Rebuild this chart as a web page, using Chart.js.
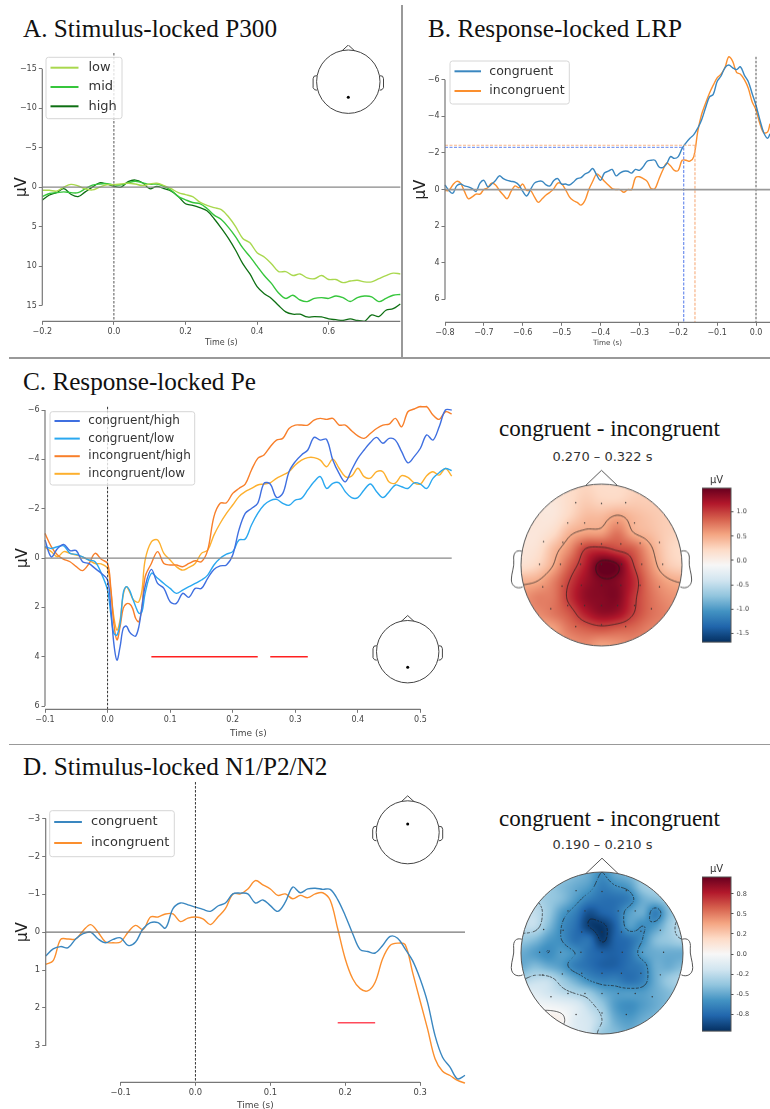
<!DOCTYPE html>
<html>
<head>
<meta charset="utf-8">
<title>ERP components</title>
<script src="https://cdn.jsdelivr.net/npm/chart.js@4/dist/chart.umd.min.js"></script>
<style>
    html, body { margin: 0; padding: 0; background: #fff; }
    #page { position: relative; width: 770px; height: 1109px; overflow: hidden; background: #fff; filter: blur(0.5px); }
    #page canvas { position: absolute; }
    .titulo { position: absolute; font: 25.2px/24px "Liberation Serif", serif; color: #111; white-space: nowrap; }
    .titulo.mapa { font-size: 23px; }
    .rango { position: absolute; font: 13px/16px "DejaVu Sans", sans-serif; color: #333; white-space: nowrap; transform: translateX(-50%); }
    .sep { position: absolute; background: #999; }
</style>
</head>
<body>
<div id="page">
    <div class="sep" style="left:9px;top:357px;width:761px;height:1.5px"></div>
    <div class="sep" style="left:401px;top:5px;width:1.5px;height:352px"></div>
    <div class="sep" style="left:9px;top:743.5px;width:761px;height:1.5px"></div>
    <div class="titulo" style="left:23px;top:17px">A. Stimulus-locked P300</div>
    <div class="titulo" style="left:428px;top:17px">B. Response-locked LRP</div>
    <div class="titulo" style="left:23px;top:370px">C. Response-locked Pe</div>
    <div class="titulo" style="left:23px;top:755px">D. Stimulus-locked N1/P2/N2</div>
    <div class="titulo mapa" style="left:499px;top:417px">congruent - incongruent</div>
    <div class="titulo mapa" style="left:499px;top:807px">congruent - incongruent</div>
    <div class="rango" style="left:602.5px;top:449px">0.270 – 0.322 s</div>
    <div class="rango" style="left:602.5px;top:837px">0.190 – 0.210 s</div>
</div>
<script>
// A. STIMULUS-LOCKED P300 (time in s, amplitude in µV, every 20 ms)
const tiemposA = [-0.2, -0.18, -0.16, -0.14, -0.12, -0.1, -0.08, -0.06, -0.04, -0.02, 0, 0.02, 0.04, 0.06, 0.08, 0.1, 0.12, 0.14, 0.16, 0.18, 0.2, 0.22, 0.24, 0.26, 0.28, 0.3, 0.32, 0.34, 0.36, 0.38, 0.4, 0.42, 0.44, 0.46, 0.48, 0.5, 0.52, 0.54, 0.56, 0.58, 0.6, 0.62, 0.64, 0.66, 0.68, 0.7, 0.72, 0.74, 0.76, 0.78, 0.8];
const lowA = [0.4, 0.4, 0.5, 0, -0.35, -0.15, 0.2, 0.35, 0, -0.3, -0.3, -0.4, -0.5, -0.4, -0.2, -0.4, -0.5, -0.2, 0.2, 0.7, 0.95, 1.2, 1.9, 2.3, 2.6, 2.85, 3.76, 5, 6.5, 7.06, 8.3, 8.85, 9.7, 10.7, 10.7, 11.2, 11, 11.5, 11.6, 11.2, 11.7, 11.7, 12.1, 11.9, 11.8, 12, 12, 11.6, 11.2, 10.9, 11];
const midA = [1.2, 0.8, 0.7, 0.6, 0.7, 0.7, 0.2, -0.25, -0.4, -0.45, -0.3, -0.3, -0.55, -0.75, -0.55, -0.35, -0.4, -0.1, 0.4, 1.2, 1.6, 1.95, 2.1, 2.7, 3.55, 4.1, 5.1, 6.3, 7.7, 8.8, 10, 11.2, 12.2, 13.4, 14.1, 13.7, 14.3, 14.5, 14.1, 14, 14.1, 13.8, 14, 14.5, 14, 13.8, 13.9, 14.5, 14.1, 13.7, 13.6];
const highA = [1.65, 1, 0.7, 0.2, 0.9, 1.2, 0.6, 0, -0.55, -0.4, -0.1, 0, -0.7, -0.9, -0.55, 0.2, -0.1, 0.2, 0.5, 1.2, 2.1, 2.3, 2.6, 3, 4, 5.2, 6.5, 8, 9.7, 11, 12.6, 13.5, 14.1, 15, 15.8, 16.1, 16.1, 16.45, 16.4, 16.45, 16.7, 16.8, 16.9, 16.7, 16.9, 17, 16.2, 16.4, 15.6, 15.4, 14.8];

// B. RESPONSE-LOCKED LRP (every 10 ms)
const tiemposB = [-0.8, -0.79, -0.78, -0.77, -0.76, -0.75, -0.74, -0.73, -0.72, -0.71, -0.7, -0.69, -0.68, -0.67, -0.66, -0.65, -0.64, -0.63, -0.62, -0.61, -0.6, -0.59, -0.58, -0.57, -0.56, -0.55, -0.54, -0.53, -0.52, -0.51, -0.5, -0.49, -0.48, -0.47, -0.46, -0.45, -0.44, -0.43, -0.42, -0.41, -0.4, -0.39, -0.38, -0.37, -0.36, -0.35, -0.34, -0.33, -0.32, -0.31, -0.3, -0.29, -0.28, -0.27, -0.26, -0.25, -0.24, -0.23, -0.22, -0.21, -0.2, -0.19, -0.18, -0.17, -0.16, -0.15, -0.14, -0.13, -0.12, -0.11, -0.1, -0.09, -0.08, -0.07, -0.06, -0.05, -0.04, -0.03, -0.02, -0.01, 0, 0.01, 0.02, 0.03, 0.036];
const congruentB = [-0.25, 0.05, 0.2, -0.2, -0.3, -0.2, -0.15, -0.05, 0.1, -0.35, -0.5, -0.15, -0.3, -0.5, -0.75, -0.6, -0.5, -0.45, -0.4, -0.25, 0.1, 0.35, 0, -0.35, -0.45, -0.45, -0.25, -0.2, -0.5, -0.6, -0.3, -0.3, -0.25, -0.4, -0.6, -0.65, -0.85, -0.95, -1.15, -0.8, -0.5, -0.9, -1, -1.1, -0.75, -0.9, -1, -1, -0.9, -1.1, -1.05, -1.25, -1.55, -1.6, -1.6, -1.25, -1.2, -1.4, -1.8, -1.7, -1.8, -2.25, -2.55, -2.8, -3, -3.35, -3.8, -4.45, -5.05, -5.2, -5.9, -6.2, -6.65, -6.8, -6.65, -6.55, -6.7, -6.25, -5.9, -5.25, -4.6, -3.8, -3.1, -2.8, -3.05];
const incongruentB = [0.05, 0.05, -0.25, -0.45, -0.35, 0.1, 0.5, 0.4, 0.25, 0.25, 0, -0.1, -0.35, -0.25, 0.05, 0.3, 0.5, 0.1, -0.2, -0.1, -0.3, 0.05, 0.05, 0.4, 0.7, 0.5, 0.3, 0.15, -0.05, -0.35, -0.3, 0, 0.4, 0.6, 0.7, 0.85, 0.6, 0, -0.45, -0.85, -0.7, -0.45, -0.25, -0.05, 0, 0, 0.15, 0, 0, -0.65, -0.7, -0.6, -0.45, -0.05, -0.05, -0.55, -1.05, -1.45, -1.3, -1.05, -1.05, -1.6, -1.6, -1.55, -1.8, -3.15, -4.1, -4.7, -5.25, -5.7, -6.1, -6.3, -6.65, -7.25, -7, -6.4, -6.3, -6, -5.55, -4.8, -4.35, -3.6, -3.1, -3.15, -3.6];
const latenciaB = { congruent: [-0.186, -2.3], incongruent: [-0.157, -2.42] };

// C. RESPONSE-LOCKED PE
const tiemposC = [-0.1, -0.09, -0.08, -0.07, -0.06, -0.05, -0.04, -0.03, -0.02, -0.01, 0, 0.005, 0.01, 0.015, 0.02, 0.025, 0.03, 0.035, 0.04, 0.045, 0.05, 0.055, 0.06, 0.07, 0.08, 0.09, 0.1, 0.11, 0.12, 0.13, 0.14, 0.15, 0.16, 0.17, 0.18, 0.19, 0.2, 0.21, 0.22, 0.23, 0.24, 0.25, 0.26, 0.27, 0.28, 0.29, 0.3, 0.31, 0.32, 0.33, 0.34, 0.35, 0.36, 0.37, 0.38, 0.39, 0.4, 0.41, 0.42, 0.43, 0.44, 0.45, 0.46, 0.47, 0.48, 0.49, 0.5, 0.51, 0.52, 0.53, 0.54, 0.55];
const congHighC = [-0.73, -0.05, -0.39, -0.55, -0.3, -0.3, 0.15, 0.22, 0.42, 0.62, 0.89, 1.97, 3.46, 4.14, 3.59, 2.85, 2.76, 2.99, 3.12, 3.16, 2.78, 1.97, 1.16, 0.46, 1.03, 1.23, 1.77, 1.84, 1.43, 1.59, 1.23, 1.23, 0.82, 0.46, 0.32, 0.28, -0.12, -1.14, -1.81, -2.01, -2.22, -3.03, -3, -2.46, -2.62, -3.5, -3.91, -4.18, -4.38, -4.89, -4.78, -4.81, -3.97, -3.43, -3.09, -3.57, -4.04, -4.38, -4.68, -4.89, -4.65, -4.85, -4.78, -4.31, -3.86, -4.11, -4.45, -4.99, -4.78, -5.32, -6, -6];
const congLowC = [-0.46, -0.39, -0.46, -0.49, -0.19, -0.15, -0.05, 0.08, 0.15, 0.62, 1.3, 2.24, 3.05, 3.12, 2.65, 1.43, 1.16, 1.3, 1.64, 1.97, 2.24, 2.18, 1.43, 0.62, 0.82, 1.03, 1.23, 1.43, 1.3, 1.16, 1.03, 0.89, 0.69, 0.28, 0.01, -0.16, -0.26, -0.73, -0.77, -1.34, -1.81, -2.15, -2.33, -2.38, -2.22, -2.14, -2.35, -2.42, -2.76, -3.09, -3.3, -2.82, -3.03, -3.05, -2.69, -2.45, -2.45, -2.76, -3, -2.69, -2.45, -2.69, -2.96, -2.89, -2.82, -3.05, -3, -2.82, -3.23, -3.46, -3.63, -3.54];
const incHighC = [-1, -0.46, -0.12, 0.05, 0.15, 0.35, 0.51, 0.24, -0.19, 0.05, 0.22, 1.16, 2.65, 3.32, 2.78, 2.04, 1.86, 1.86, 2.04, 2.45, 2.58, 1.97, 0.76, 0.22, -0.26, 0.22, 0.28, 0.28, 0.35, 0.22, 0.11, 0.15, -0.32, -1.68, -2.22, -2.24, -2.62, -2.82, -3, -3.57, -4.04, -4.18, -4.51, -4.78, -4.85, -5.25, -5.39, -5.39, -5.39, -5.59, -5.66, -5.62, -5.66, -5.39, -5.39, -5.16, -4.95, -4.85, -5.05, -5.25, -5.39, -5.43, -5.66, -5.32, -5.93, -6.04, -6.14, -6.14, -5.8, -5.62, -5.93, -5.84];
const incLowC = [-0.43, -0.26, -0.05, -0.26, -0.19, -0.12, -0.05, 0.08, 0.22, 0.24, 0.42, 1.3, 2.38, 2.92, 2.51, 1.5, 1.16, 1.36, 1.64, 1.77, 1.77, 1.3, 0.08, -0.66, -0.73, -0.19, 0.08, 0.35, 0.49, 0.38, 0.22, -0.19, -0.32, -0.93, -1.41, -1.81, -2.15, -2.49, -2.69, -2.82, -2.96, -3, -3.05, -3.23, -3.36, -3.5, -3.77, -3.97, -4.07, -4.07, -3.97, -3.7, -4.01, -3.64, -3.3, -3.32, -3.64, -3.3, -3.24, -3.5, -3.5, -3.08, -3.04, -3.34, -3.27, -3.05, -3, -3.34, -3.5, -3.36, -3.63, -3.32];
const significativoC = [[0.07, 0.24], [0.26, 0.32]];

// D. STIMULUS-LOCKED N1/P2/N2 (every 10 ms)
const tiemposD = [-0.2, -0.19, -0.18, -0.17, -0.16, -0.15, -0.14, -0.13, -0.12, -0.11, -0.1, -0.09, -0.08, -0.07, -0.06, -0.05, -0.04, -0.03, -0.02, -0.01, 0, 0.01, 0.02, 0.03, 0.04, 0.05, 0.06, 0.07, 0.08, 0.09, 0.1, 0.11, 0.12, 0.13, 0.14, 0.15, 0.16, 0.17, 0.18, 0.19, 0.2, 0.21, 0.22, 0.23, 0.24, 0.25, 0.26, 0.27, 0.28, 0.29, 0.3, 0.31, 0.32, 0.33, 0.34, 0.35, 0.36];
const congruentD = [0.63, 0.44, 0.38, 0.41, 0.18, 0.04, 0, 0.18, 0.28, 0.19, 0.15, 0.35, 0.26, -0.09, -0.25, -0.25, -0.11, -0.62, -0.77, -0.72, -0.66, -0.6, -0.55, -0.69, -0.77, -1.01, -1.03, -1.01, -0.77, -0.85, -0.7, -0.55, -0.79, -1.19, -1.04, -1.14, -1.16, -1.13, -1.13, -0.86, -0.44, 0.04, 0.46, 0.51, 0.55, 0.35, 0.11, 0.16, 0.44, 0.75, 1.23, 1.85, 2.73, 3.3, 3.56, 3.87, 3.78];
const incongruentD = [0.85, 0.75, 0.19, 0.18, 0.18, -0.04, -0.2, 0, 0.26, 0.28, 0.26, 0, -0.18, -0.07, -0.4, -0.4, -0.48, -0.48, -0.28, -0.37, -0.4, -0.35, -0.2, -0.4, -0.62, -1.01, -1.01, -1.14, -1.36, -1.25, -1.14, -0.97, -1.01, -0.88, -0.97, -0.91, -1.01, -1.04, -0.84, -0.09, 0.7, 1.23, 1.49, 1.55, 1.32, 0.7, 0.35, 0.29, 0.33, 1.06, 1.81, 2.55, 3.34, 3.67, 3.78, 3.91, 3.98];
const significativoD = [[0.19, 0.24]];

// TOPOGRAPHIES (µV on a regular grid over the head, first row at the front)
const topoC = [
    [0.2, 0.2, 0.2, 0.2, 0.25, 0.2, 0.2, 0.25, 0.3, 0.3, 0.3],
    [0.2, 0.1, 0.1, 0.2, 0.3, 0.25, 0.25, 0.3, 0.3, 0.3, 0.3],
    [0.2, 0.1, 0.1, 0.25, 0.4, 0.42, 0.52, 0.42, 0.35, 0.3, 0.3],
    [0.1, 0.1, 0.2, 0.45, 0.55, 0.57, 0.75, 0.5, 0.4, 0.3, 0.25],
    [0.1, 0.15, 0.4, 0.65, 1, 1.05, 0.95, 0.85, 0.55, 0.3, 0.2],
    [0.15, 0.25, 0.5, 0.85, 1.15, 1.5, 1.43, 1, 0.65, 0.35, 0.25],
    [0.45, 0.5, 0.7, 1, 1.25, 1.39, 1.36, 1.1, 0.75, 0.55, 0.48],
    [0.6, 0.7, 0.75, 1.05, 1.3, 1.36, 1.37, 1.05, 0.8, 0.65, 0.6],
    [0.6, 0.65, 0.75, 0.9, 1.15, 1.3, 1.25, 1, 0.8, 0.7, 0.6],
    [0.55, 0.5, 0.55, 0.75, 0.85, 0.9, 0.85, 0.8, 0.7, 0.65, 0.6],
    [0.5, 0.5, 0.55, 0.6, 0.65, 0.55, 0.6, 0.65, 0.6, 0.6, 0.6]
];
const topoD = [
    [-0.36, -0.36, -0.36, -0.36, -0.42, -0.48, -0.6, -0.48, -0.42, -0.36, -0.3, -0.3, -0.3],
    [-0.36, -0.36, -0.36, -0.42, -0.48, -0.54, -0.66, -0.6, -0.54, -0.36, -0.3, -0.3, -0.3],
    [-0.3, -0.3, -0.36, -0.42, -0.54, -0.66, -0.72, -0.72, -0.66, -0.48, -0.42, -0.36, -0.36],
    [-0.24, -0.24, -0.36, -0.54, -0.66, -0.84, -0.78, -0.72, -0.54, -0.48, -0.66, -0.42, -0.3],
    [-0.24, -0.24, -0.42, -0.6, -0.72, -0.9, -0.93, -0.78, -0.54, -0.6, -0.54, -0.36, -0.24],
    [-0.36, -0.42, -0.54, -0.6, -0.72, -0.72, -0.92, -0.78, -0.72, -0.6, -0.42, -0.36, -0.3],
    [-0.48, -0.54, -0.6, -0.54, -0.6, -0.72, -0.78, -0.78, -0.72, -0.54, -0.48, -0.48, -0.48],
    [-0.48, -0.42, -0.48, -0.54, -0.66, -0.72, -0.78, -0.78, -0.72, -0.66, -0.48, -0.48, -0.42],
    [-0.3, -0.24, -0.24, -0.36, -0.48, -0.6, -0.66, -0.66, -0.72, -0.66, -0.48, -0.36, -0.3],
    [-0.12, -0.12, -0.18, -0.24, -0.3, -0.36, -0.48, -0.54, -0.54, -0.54, -0.48, -0.42, -0.36],
    [-0.06, -0.03, -0.03, -0.06, -0.12, -0.24, -0.36, -0.54, -0.6, -0.54, -0.48, -0.42, -0.36],
    [-0.02, 0.02, 0.06, 0.03, -0.12, -0.18, -0.3, -0.48, -0.54, -0.48, -0.42, -0.36, -0.36],
    [-0.02, 0, 0, -0.06, -0.12, -0.18, -0.36, -0.42, -0.48, -0.42, -0.36, -0.36, -0.36]
];
const sensoresX = [-0.32, 0, 0.3, -0.42, -0.21, 0.2, 0.41, -0.72, -0.48, -0.25, 0, 0.24, 0.48, 0.72, -0.77, -0.51, -0.26, 0, 0.25, 0.5, 0.76, -0.73, -0.49, -0.25, 0, 0.24, 0.48, 0.72, -0.63, -0.42, -0.21, 0, 0.2, 0.41, 0.62, -0.32, 0, 0.3];
const sensoresY = [0.77, 0.76, 0.77, 0.52, 0.52, 0.52, 0.52, 0.29, 0.28, 0.26, 0.26, 0.26, 0.27, 0.28, 0.01, 0.01, 0.01, 0.01, 0.01, 0.01, 0.01, -0.27, -0.26, -0.25, -0.25, -0.25, -0.25, -0.27, -0.54, -0.5, -0.5, -0.5, -0.5, -0.5, -0.54, -0.76, -0.74, -0.76];
const nivelesC = [0.5, 1, 1.42];
const nivelesD = [-0.9, -0.6, -0.3, 0];
const barraTicksC = [1, 0.5, 0, -0.5, -1, -1.5];
const barraLabelsC = ['1.0', '0.5', '0.0', '-0.5', '-1.0', '-1.5'];
const barraTicksD = [0.75, 0.5, 0.25, 0, -0.25, -0.5, -0.75];
const barraLabelsD = ['0.8', '0.5', '0.2', '0.0', '-0.2', '-0.5', '-0.8'];

const page = document.getElementById('page');
const RDBU = ['#053061', '#2166ac', '#4393c3', '#92c5de', '#d1e5f0', '#f7f7f7', '#fddbc7', '#f4a582', '#d6604d', '#b2182b', '#67001f'];
const RDBU_RGB = RDBU.map(c => [1, 3, 5].map(i => parseInt(c.substr(i, 2), 16)));

function nuevoCanvas(caja) {
    const canvas = document.createElement('canvas');
    canvas.width = caja.w;
    canvas.height = caja.h;
    canvas.style.left = caja.l + 'px';
    canvas.style.top = caja.t + 'px';
    canvas.style.width = caja.w + 'px';
    canvas.style.height = caja.h + 'px';
    page.appendChild(canvas);
    return canvas.getContext('2d');
}

function puntos(xs, ys) {
    return xs.map((x, i) => ({ x: x, y: ys[i] }));
}

function curva(label, xs, ys, color, width) {
    return { label: label, data: puntos(xs, ys), borderColor: color, borderWidth: width || 1.4, pointRadius: 0, tension: 0.35, clip: false, fill: false };
}

function segmento(p1, p2, color, width, dash) {
    return { data: [{ x: p1[0], y: p1[1] }, { x: p2[0], y: p2[1] }], borderColor: color, borderWidth: width, borderDash: dash || [], pointRadius: 0, clip: false, fill: false };
}

function dibujarCabeza(ctx, cx, cy, r, dotDy) {
    ctx.save();
    ctx.strokeStyle = '#444';
    ctx.lineWidth = 1;
    ctx.beginPath();
    ctx.arc(cx, cy, r, 0, Math.PI * 2);
    ctx.moveTo(cx - 6.5, cy - r + 1);
    ctx.lineTo(cx, cy - r - 5);
    ctx.lineTo(cx + 6.5, cy - r + 1);
    ctx.stroke();
    [-1, 1].forEach(lado => {
        ctx.beginPath();
        ctx.moveTo(cx + lado * r * 0.99, cy - 6);
        ctx.lineTo(cx + lado * (r + 2.5), cy - 5.5);
        ctx.lineTo(cx + lado * (r + 3.5), cy - 3);
        ctx.lineTo(cx + lado * (r + 3.5), cy + 6);
        ctx.lineTo(cx + lado * (r + 2), cy + 8);
        ctx.lineTo(cx + lado * r * 0.99, cy + 8.5);
        ctx.stroke();
    });
    ctx.fillStyle = '#000';
    ctx.beginPath();
    ctx.arc(cx, cy + dotDy, 1.5, 0, Math.PI * 2);
    ctx.fill();
    ctx.restore();
}

// Time course panel: box is the canvas, area the plot rectangle, both in page pixels
function graficoTraza(cfg) {
    const { caja, area } = cfg;
    const ctx = nuevoCanvas(caja);
    const decoracion = {
        id: 'decoracion',
        afterDatasetsDraw(chart) {
            const c = chart.ctx;
            const sx = chart.scales.x, sy = chart.scales.y;
            c.save();
            c.strokeStyle = '#777';
            c.lineWidth = 1.2;
            c.beginPath();
            c.moveTo(sx.left, sy.getPixelForValue(cfg.yBounds[0]));
            c.lineTo(sx.left, sy.getPixelForValue(cfg.yBounds[1]));
            c.moveTo(sx.getPixelForValue(cfg.xBounds[0]), sy.bottom);
            c.lineTo(sx.getPixelForValue(cfg.xBounds[1]), sy.bottom);
            c.stroke();
            // Legend, matplotlib style
            const lg = cfg.leyenda;
            const lx = lg.x - caja.l, ly = lg.y - caja.t;
            c.fillStyle = 'rgba(255,255,255,0.8)';
            c.strokeStyle = '#d6d6d6';
            c.lineWidth = 1;
            c.beginPath();
            c.roundRect(lx, ly, lg.w, lg.h, 2.5);
            c.fill();
            c.stroke();
            c.font = lg.font + 'px "DejaVu Sans"';
            c.textBaseline = 'middle';
            lg.items.forEach((item, i) => {
                const y = ly + lg.y0 + i * lg.dy;
                c.strokeStyle = item[1];
                c.lineWidth = 2;
                c.beginPath();
                c.moveTo(lx + 4.5, y);
                c.lineTo(lx + 4.5 + lg.linea, y);
                c.stroke();
                c.fillStyle = '#333';
                c.fillText(item[0], lx + lg.tx, y);
            });
            c.restore();
            if (cfg.cabeza) {
                dibujarCabeza(c, cfg.cabeza.x - caja.l, cfg.cabeza.y - caja.t, cfg.cabeza.r, cfg.cabeza.dot);
            }
        }
    };
    return new Chart(ctx, {
        type: 'line',
        data: { datasets: cfg.datasets },
        options: {
            responsive: false,
            animation: false,
            layout: { padding: { top: area.top - caja.t, right: caja.l + caja.w - area.right } },
            plugins: { legend: { display: false }, tooltip: { enabled: false } },
            scales: {
                x: {
                    type: 'linear',
                    min: cfg.xRange[0],
                    max: cfg.xRange[1],
                    afterFit: s => { s.height = caja.t + caja.h - area.bottom; },
                    afterBuildTicks: s => { s.ticks = cfg.xTicks.map(v => ({ value: v })); },
                    border: { display: false },
                    grid: { drawOnChartArea: false, drawTicks: true, tickLength: 3.5, color: '#777' },
                    ticks: { autoSkip: false, maxRotation: 0, padding: 2, font: { family: 'DejaVu Sans', size: cfg.tickFont }, color: '#444', callback: v => v.toFixed(1).replace('-', '\u2212') },
                    title: { display: true, text: 'Time (s)', font: { family: 'DejaVu Sans', size: cfg.timeFont }, color: '#444', padding: { top: 0, bottom: cfg.timePad } }
                },
                y: {
                    type: 'linear',
                    reverse: true,
                    min: cfg.yRange[0],
                    max: cfg.yRange[1],
                    afterFit: s => { s.width = area.left - caja.l; },
                    afterBuildTicks: s => { s.ticks = cfg.yTicks.map(v => ({ value: v })); },
                    border: { display: false },
                    grid: { drawOnChartArea: false, drawTicks: true, tickLength: 3.5, color: '#777' },
                    ticks: { autoSkip: false, padding: 2, font: { family: 'DejaVu Sans', size: cfg.tickFont }, color: '#444', callback: v => String(v).replace('-', '\u2212') },
                    title: { display: true, text: 'µV', font: { family: 'DejaVu Sans', size: 15 }, color: '#222', padding: { top: cfg.uvPad, bottom: 0 } }
                }
            }
        },
        plugins: [decoracion]
    });
}

function colorMapa(t) {
    const p = Math.max(0, Math.min(1, t)) * 10;
    const i = Math.min(9, Math.floor(p));
    const f = p - i;
    return RDBU_RGB[i].map((v, k) => v + (RDBU_RGB[i + 1][k] - v) * f);
}

// Smooth reading of the value grid, u and v go from 0 to 1
function leerGrid(grid, u, v) {
    const n = grid.length - 1;
    const px = u * n, py = v * n;
    const ix = Math.min(n - 1, Math.floor(px)), iy = Math.min(n - 1, Math.floor(py));
    const fx = px - ix, fy = py - iy;
    const cr = (a, b, c, d, t) => b + 0.5 * t * (c - a + t * (2 * a - 5 * b + 4 * c - d + t * (3 * (b - c) + d - a)));
    const at = (r, c) => grid[Math.max(0, Math.min(n, r))][Math.max(0, Math.min(n, c))];
    const fila = r => cr(at(r, ix - 1), at(r, ix), at(r, ix + 1), at(r, ix + 2), fx);
    return cr(fila(iy - 1), fila(iy), fila(iy + 1), fila(iy + 2), fy);
}

function dibujarContornos(c, grid, niveles, sx, sy) {
    const M = 110;
    const valores = [];
    for (let j = 0; j <= M; j++) {
        valores.push([]);
        for (let i = 0; i <= M; i++) valores[j].push(leerGrid(grid, i / M, j / M));
    }
    const px = u => sx.getPixelForValue(-1 + 2 * u);
    const py = v => sy.getPixelForValue(1 - 2 * v);
    niveles.forEach(nivel => {
        c.save();
        c.strokeStyle = 'rgba(30,30,30,0.75)';
        c.lineWidth = 0.9;
        c.beginPath();
        for (let j = 0; j < M; j++) {
            for (let i = 0; i < M; i++) {
                // negative levels are dashed: leave out every third cell
                if (nivel < 0 && (i + j) % 3 === 2) continue;
                const q = [valores[j][i], valores[j][i + 1], valores[j + 1][i + 1], valores[j + 1][i]];
                const corte = [];
                const esq = [[i, j], [i + 1, j], [i + 1, j + 1], [i, j + 1]];
                for (let k = 0; k < 4; k++) {
                    const a = q[k], b = q[(k + 1) % 4];
                    if ((a < nivel) !== (b < nivel)) {
                        const t = (nivel - a) / (b - a);
                        const e1 = esq[k], e2 = esq[(k + 1) % 4];
                        corte.push([px((e1[0] + (e2[0] - e1[0]) * t) / M), py((e1[1] + (e2[1] - e1[1]) * t) / M)]);
                    }
                }
                for (let k = 0; k + 1 < corte.length; k += 2) {
                    c.moveTo(corte[k][0], corte[k][1]);
                    c.lineTo(corte[k + 1][0], corte[k + 1][1]);
                }
            }
        }
        c.stroke();
        c.restore();
    });
}

// Scalp map: value grid painted through the chart scales, sensors as a scatter dataset
function graficoMapa(cfg) {
    const margen = 20;
    const caja = { l: cfg.cx - cfg.r - margen, t: cfg.cy - cfg.r - margen, w: 2 * (cfg.r + margen), h: 2 * (cfg.r + margen) };
    const ctx = nuevoCanvas(caja);
    const mapa = {
        id: 'mapa',
        beforeDatasetsDraw(chart) {
            const c = chart.ctx;
            const sx = chart.scales.x, sy = chart.scales.y;
            const lado = Math.round(sx.right - sx.left);
            const img = c.createImageData(lado, lado);
            for (let j = 0; j < lado; j++) {
                for (let i = 0; i < lado; i++) {
                    const col = colorMapa((leerGrid(cfg.grid, i / (lado - 1), j / (lado - 1)) - cfg.vmin) / (cfg.vmax - cfg.vmin));
                    const o = (j * lado + i) * 4;
                    img.data[o] = col[0]; img.data[o + 1] = col[1]; img.data[o + 2] = col[2]; img.data[o + 3] = 255;
                }
            }
            const off = document.createElement('canvas');
            off.width = off.height = lado;
            off.getContext('2d').putImageData(img, 0, 0);
            const cx = sx.getPixelForValue(0), cy = sy.getPixelForValue(0), r = cx - sx.left;
            c.save();
            c.beginPath();
            c.arc(cx, cy, r, 0, Math.PI * 2);
            c.clip();
            c.drawImage(off, sx.left, sy.top);
            dibujarContornos(c, cfg.grid, cfg.niveles, sx, sy);
            c.restore();
        },
        afterDatasetsDraw(chart) {
            const c = chart.ctx;
            const X = chart.scales.x, Y = chart.scales.y;
            const px = v => X.getPixelForValue(v), py = v => Y.getPixelForValue(v);
            c.save();
            c.strokeStyle = '#555';
            c.lineWidth = 1;
            c.beginPath();
            c.arc(px(0), py(0), px(1) - px(0), 0, Math.PI * 2);
            c.moveTo(px(-0.2), py(0.98));
            c.lineTo(px(0), py(1.17));
            c.lineTo(px(0.2), py(0.98));
            [-1, 1].forEach(s => {
                c.moveTo(px(s * 0.99), py(0.17));
                c.bezierCurveTo(px(s * 1.06), py(0.19), px(s * 1.1), py(0.15), px(s * 1.09), py(0.06));
                c.bezierCurveTo(px(s * 1.08), py(-0.02), px(s * 1.12), py(-0.1), px(s * 1.12), py(-0.18));
                c.bezierCurveTo(px(s * 1.12), py(-0.27), px(s * 1.04), py(-0.3), px(s * 0.98), py(-0.27));
            });
            c.stroke();
            c.restore();
        }
    };
    return new Chart(ctx, {
        type: 'scatter',
        data: { datasets: [{ data: puntos(sensoresX, sensoresY), pointRadius: 0.7, pointBackgroundColor: '#333', pointBorderWidth: 0 }] },
        options: {
            responsive: false,
            animation: false,
            layout: { padding: margen },
            plugins: { legend: { display: false }, tooltip: { enabled: false } },
            scales: {
                x: { type: 'linear', min: -1, max: 1, display: false },
                y: { type: 'linear', min: -1, max: 1, display: false }
            }
        },
        plugins: [mapa]
    });
}

// Colour bar on its own small chart, its right axis gives the ticks
function graficoBarra(cfg) {
    const caja = { l: cfg.left, t: cfg.top - 18, w: cfg.w + 25, h: cfg.h + 22 };
    const ctx = nuevoCanvas(caja);
    const barra = {
        id: 'barra',
        beforeDatasetsDraw(chart) {
            const c = chart.ctx;
            const a = chart.chartArea;
            const grad = c.createLinearGradient(0, a.bottom, 0, a.top);
            RDBU.forEach((color, i) => grad.addColorStop(i / 10, color));
            c.save();
            c.fillStyle = grad;
            c.fillRect(a.left, a.top, a.right - a.left, a.bottom - a.top);
            c.strokeStyle = '#555';
            c.lineWidth = 1;
            c.strokeRect(a.left, a.top, a.right - a.left, a.bottom - a.top);
            c.fillStyle = '#333';
            c.font = '10px "DejaVu Sans"';
            c.textAlign = 'center';
            c.textBaseline = 'middle';
            c.fillText('µV', (a.left + a.right) / 2, a.top - 8);
            c.restore();
        }
    };
    return new Chart(ctx, {
        type: 'scatter',
        data: { datasets: [{ data: [], yAxisID: 'y' }] },
        options: {
            responsive: false,
            animation: false,
            layout: { padding: { top: 18, bottom: 4, left: 0, right: 0 } },
            plugins: { legend: { display: false }, tooltip: { enabled: false } },
            scales: {
                x: { type: 'linear', display: false, min: 0, max: 1 },
                y: {
                    type: 'linear',
                    position: 'right',
                    min: cfg.vmin,
                    max: cfg.vmax,
                    afterFit: s => { s.width = 25; },
                    afterBuildTicks: s => { s.ticks = cfg.ticks.map(v => ({ value: v })); },
                    border: { display: false },
                    grid: { drawOnChartArea: false, tickLength: 2.5, color: '#555' },
                    ticks: { autoSkip: false, padding: 3, font: { family: 'DejaVu Sans', size: 6.5 }, color: '#444', callback: v => cfg.labels[cfg.ticks.indexOf(v)] }
                }
            }
        },
        plugins: [barra]
    });
}

const verde = { low: '#a9d84e', mid: '#36c63c', high: '#0d6f12' };
graficoTraza({
    caja: { l: 0, t: 45, w: 401, h: 312 },
    area: { left: 42.3, right: 400.3, top: 53, bottom: 321.3 },
    xRange: [-0.2, 0.8], yRange: [-17, 17],
    xBounds: [-0.2, 0.8], yBounds: [-15, 15],
    xTicks: [-0.2, 0, 0.2, 0.4, 0.6], yTicks: [-15, -10, -5, 0, 5, 10, 15],
    tickFont: 8, timeFont: 8, timePad: 9, uvPad: 13,
    leyenda: { x: 46, y: 57.3, w: 76, h: 61.4, font: 13, linea: 28, tx: 42.5, y0: 10.4, dy: 19.3, items: [['low', verde.low], ['mid', verde.mid], ['high', verde.high]] },
    cabeza: { x: 348.3, y: 81.7, r: 31.7, dot: 15.6 },
    datasets: [
        segmento([-0.2, 0], [0.8, 0], '#888', 1.2),
        segmento([0, -17], [0, 17], '#555', 1, [2.5, 1.5]),
        curva('low', tiemposA, lowA, verde.low),
        curva('mid', tiemposA, midA, verde.mid),
        curva('high', tiemposA, highA, verde.high, 1.3)
    ]
});

const azul = '#3a87c0', naranja = '#fb8f2e';
const latC = latenciaB.congruent, latI = latenciaB.incongruent;
graficoTraza({
    caja: { l: 403, t: 50, w: 367, h: 307 },
    area: { left: 445, right: 770, top: 56.7, bottom: 322.3 },
    xRange: [-0.8, 0.036], yRange: [-7.25, 7.25],
    xBounds: [-0.8, 0.036], yBounds: [-6, 6],
    xTicks: [-0.8, -0.7, -0.6, -0.5, -0.4, -0.3, -0.2, -0.1, 0], yTicks: [-6, -4, -2, 0, 2, 4, 6],
    tickFont: 8, timeFont: 7.2, timePad: 10, uvPad: 9,
    leyenda: { x: 450, y: 61, w: 119.3, h: 43, font: 12.5, linea: 26.5, tx: 39.3, y0: 10.3, dy: 19.7, items: [['congruent', azul], ['incongruent', naranja]] },
    datasets: [
        segmento([-0.8, 0], [0.036, 0], '#999', 1.7),
        segmento([0, -7.25], [0, 7.25], '#555', 1, [2.5, 1.5]),
        segmento([-0.8, latC[1]], [latC[0], latC[1]], '#7f9cf0', 1.2, [3, 1.5]),
        segmento([latC[0], latC[1]], [latC[0], 7.25], '#6f8fee', 1.2, [3, 1.5]),
        segmento([-0.8, latI[1]], [latI[0], latI[1]], '#f8b58a', 1.2, [3, 1.5]),
        segmento([latI[0], latI[1]], [latI[0], 7.25], '#f8b488', 1.2, [3, 1.5]),
        curva('congruent', tiemposB, congruentB, azul),
        curva('incongruent', tiemposB, incongruentB, naranja)
    ]
});

const colorC = { congHigh: '#3f6fe0', congLow: '#2aa8f0', incHigh: '#f87f2a', incLow: '#fdb02e' };
graficoTraza({
    caja: { l: 0, t: 400, w: 470, h: 342 },
    area: { left: 45, right: 451.7, top: 406.7, bottom: 709.3 },
    xRange: [-0.1, 0.55], yRange: [-6.13, 6.13],
    xBounds: [-0.1, 0.5], yBounds: [-6, 6],
    xTicks: [-0.1, 0, 0.1, 0.2, 0.3, 0.4, 0.5], yTicks: [-6, -4, -2, 0, 2, 4, 6],
    tickFont: 8, timeFont: 9, timePad: 3, uvPad: 14,
    leyenda: { x: 50, y: 411.7, w: 144.7, h: 73.3, font: 12, linea: 25.3, tx: 38.3, y0: 9.3, dy: 17.6, items: [['congruent/high', colorC.congHigh], ['congruent/low', colorC.congLow], ['incongruent/high', colorC.incHigh], ['incongruent/low', colorC.incLow]] },
    cabeza: { x: 407.7, y: 651.7, r: 31.2, dot: 15.6 },
    datasets: [
        segmento([-0.1, 0], [0.55, 0], '#888', 1.2),
        segmento([0, -6.13], [0, 6.13], '#333', 1, [2.5, 1.5]),
        segmento([significativoC[0][0], 4], [significativoC[0][1], 4], '#ff2020', 1.4),
        segmento([significativoC[1][0], 4], [significativoC[1][1], 4], '#ff2020', 1.4),
        curva('congruent/high', tiemposC, congHighC, colorC.congHigh),
        curva('congruent/low', tiemposC, congLowC, colorC.congLow),
        curva('incongruent/high', tiemposC, incHighC, colorC.incHigh),
        curva('incongruent/low', tiemposC, incLowC, colorC.incLow)
    ]
});

graficoTraza({
    caja: { l: 0, t: 775, w: 475, h: 336 },
    area: { left: 45.7, right: 465, top: 781.7, bottom: 1082.3 },
    xRange: [-0.2, 0.36], yRange: [-3.96, 3.96],
    xBounds: [-0.1, 0.3], yBounds: [-3, 3],
    xTicks: [-0.1, 0, 0.1, 0.2, 0.3], yTicks: [-3, -2, -1, 0, 1, 2, 3],
    tickFont: 8.4, timeFont: 9, timePad: 0, uvPad: 14,
    leyenda: { x: 49.7, y: 810.7, w: 124.6, h: 46, font: 13, linea: 27.7, tx: 41.3, y0: 11.3, dy: 21, items: [['congruent', azul], ['incongruent', naranja]] },
    cabeza: { x: 407.7, y: 832.3, r: 31.5, dot: -8.3 },
    datasets: [
        segmento([-0.2, 0], [0.36, 0], '#777', 1.2),
        segmento([0, -3.96], [0, 3.96], '#333', 1, [2.5, 1.5]),
        segmento([significativoD[0][0], 2.39], [significativoD[0][1], 2.39], '#ff4a5a', 1.6),
        curva('congruent', tiemposD, congruentD, azul),
        curva('incongruent', tiemposD, incongruentD, naranja)
    ]
});

graficoMapa({ cx: 601.7, cy: 565, r: 80.8, grid: topoC, niveles: nivelesC, vmin: -1.68, vmax: 1.49 });
graficoBarra({ left: 701.7, top: 488.3, w: 29.3, h: 156.7, vmin: -1.68, vmax: 1.49, ticks: barraTicksC, labels: barraLabelsC });
graficoMapa({ cx: 601.7, cy: 952.7, r: 81, grid: topoD, niveles: nivelesD, vmin: -0.96, vmax: 0.96 });
graficoBarra({ left: 701.7, top: 877.3, w: 29.3, h: 157, vmin: -0.96, vmax: 0.96, ticks: barraTicksD, labels: barraLabelsD });
</script>
</body>
</html>
